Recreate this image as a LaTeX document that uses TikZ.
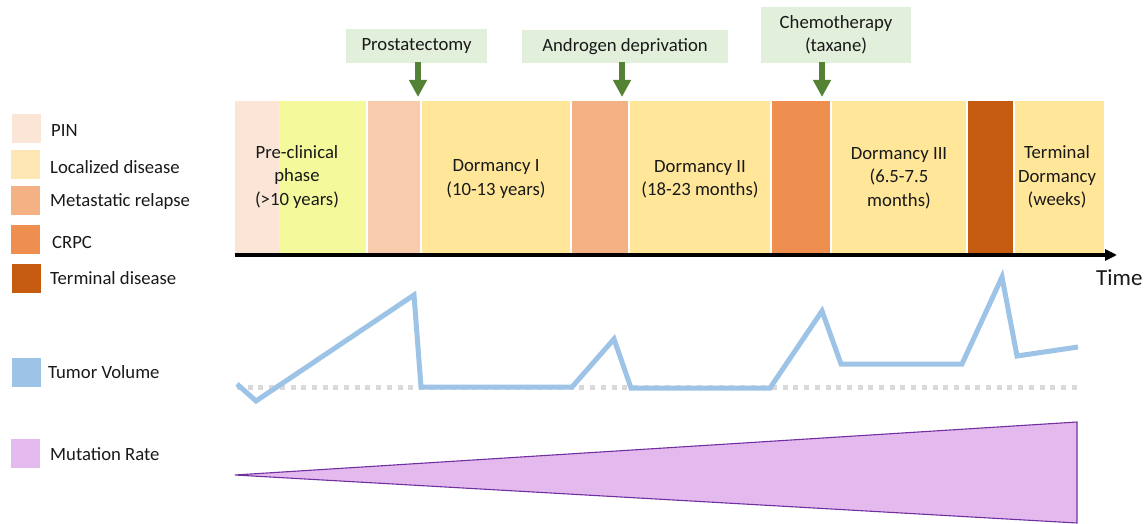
\documentclass[tikz,border=0pt]{standalone}
\usepackage{fontspec}
\setmainfont{Carlito}
\usetikzlibrary{arrows.meta}
\definecolor{cpin}{HTML}{FBE5D6}
\definecolor{cpre}{HTML}{F4F99B}
\definecolor{cloc}{HTML}{FFE699}
\definecolor{clocleg}{HTML}{FDE6B4}
\definecolor{cmetl}{HTML}{F8CBAD}
\definecolor{cmet}{HTML}{F4B183}
\definecolor{ccrpc}{HTML}{EE8F4F}
\definecolor{cterm}{HTML}{C55A11}
\definecolor{ccall}{HTML}{E2EFDA}
\definecolor{cgreen}{HTML}{548235}
\definecolor{ctum}{HTML}{9DC3E6}
\definecolor{cdot}{HTML}{D9D9D9}
\definecolor{cmutf}{HTML}{E3B9EE}
\definecolor{cmutd}{HTML}{7030A0}
\begin{document}
\begin{tikzpicture}[x=1pt,y=-1pt,
  txt/.style={font=\fontsize{18.7}{23.3}\selectfont, inner sep=0pt, align=center, text=black!90},
  legtxt/.style={font=\fontsize{18.7}{23.3}\selectfont, inner sep=0pt, anchor=base west, text=black!90},
  legsq/.style={minimum width=29pt, minimum height=29pt, inner sep=0pt, draw=none},
  callbox/.style={fill=ccall, draw=none, inner sep=0pt, font=\fontsize{18.7}{23.3}\selectfont, align=center, text=black!90},
  garrow/.style={draw=cgreen, line width=5.5pt, -{Triangle[length=17pt,width=17pt]}},
  tumor/.style={draw=ctum, line width=5pt, line join=miter},
  dotline/.style={draw=cdot, line width=5pt, dash pattern=on 5pt off 5.7pt},
  mutation/.style={fill=cmutf, draw=cmutd, line width=1.1pt, line join=miter}
]
\useasboundingbox (0,0) rectangle (1148,524);

% legend
\node[legsq, fill=cpin]    (lpin)  at (26.5,128.5) {};
\node[legsq, fill=clocleg] (lloc)  at (25.5,164.5) {};
\node[legsq, fill=cmet]    (lmet)  at (25.5,200.5) {};
\node[legsq, fill=ccrpc]   (lcrpc) at (25.5,239.5) {};
\node[legsq, fill=cterm]   (lterm) at (26.5,278.5) {};
\node[legsq, fill=ctum]    (ltum)  at (26,372.5) {};
\node[legsq, fill=cmutf]   (lmut)  at (25.5,453.5) {};
\node[legtxt] (tpin)  at (51,137) {PIN};
\node[legtxt] (tloc)  at (50,173) {Localized disease};
\node[legtxt] (tmet)  at (50,206) {Metastatic relapse};
\node[legtxt] (tcrpc) at (52,248) {CRPC};
\node[legtxt] (tterm) at (50,284) {Terminal disease};
\node[legtxt] (ttum)  at (48,378) {Tumor Volume};
\node[legtxt] (tmut)  at (50,460) {Mutation Rate};

% timeline segments
\fill[cpin]  (235,101) rectangle (279,253);
\fill[cpre]  (279,101) rectangle (366,253);
\fill[cmetl] (368,101) rectangle (420,253);
\fill[cloc]  (422,101) rectangle (570,253);
\fill[cmet]  (572,101) rectangle (628,253);
\fill[cloc]  (630,101) rectangle (770,253);
\fill[ccrpc] (772,101) rectangle (830,253);
\fill[cloc]  (832,101) rectangle (966,253);
\fill[cterm] (968,101) rectangle (1013,253);
\fill[cloc]  (1015,101) rectangle (1104,253);

\node[txt] (pre)  at (297,177) {Pre-clinical\\phase\\(>10 years)};
\node[txt] (d1)   at (496,179) {Dormancy I\\(10-13 years)};
\node[txt] (d2)   at (700,179) {Dormancy II\\(18-23 months)};
\node[txt] (d3)   at (899,178) {Dormancy III\\(6.5-7.5\\months)};
\node[txt] (d4)   at (1057,177) {Terminal\\Dormancy\\(weeks)};

% time axis
\coordinate (t0) at (235,255);
\coordinate (t1) at (1117,255);
\draw[line width=3.5pt, -{Triangle[length=12pt,width=11pt]}] (t0) -- (t1);
\node[anchor=base west, inner sep=0pt, font=\fontsize{23}{28}\selectfont, text=black!90] (time) at (1096,285) {Time};

% callouts
\node[callbox, minimum width=141pt, minimum height=34pt] (c1) at (416.5,46) {Prostatectomy};
\node[callbox, minimum width=206pt, minimum height=33pt] (c2) at (625,46.5) {Androgen deprivation};
\node[callbox, minimum width=150pt, minimum height=56pt] (c3) at (836,35) {Chemotherapy\\(taxane)};
\coordinate (a1) at (418,97);
\coordinate (a2) at (622,97);
\coordinate (a3) at (822,97);
\draw[garrow] ([yshift=1pt]a1 |- c1.south) -- (a1);
\draw[garrow] ([yshift=1pt]a2 |- c2.south) -- (a2);
\draw[garrow] ([yshift=1pt]a3 |- c3.south) -- (a3);

% tumor volume
\draw[dotline] (237,387) -- (1080,387);
\draw[tumor] (237,384) -- (256,401) -- (414,295) -- (421,387) -- (572,387) -- (614,339) -- (631,388) -- (770,388) -- (822,311) -- (841,364) -- (962,364) -- (1002,277) -- (1017,356) -- (1078,347);

% mutation rate
\draw[mutation] (235,475) -- (1077,422) -- (1077,523) -- cycle;
\end{tikzpicture}
\end{document}
